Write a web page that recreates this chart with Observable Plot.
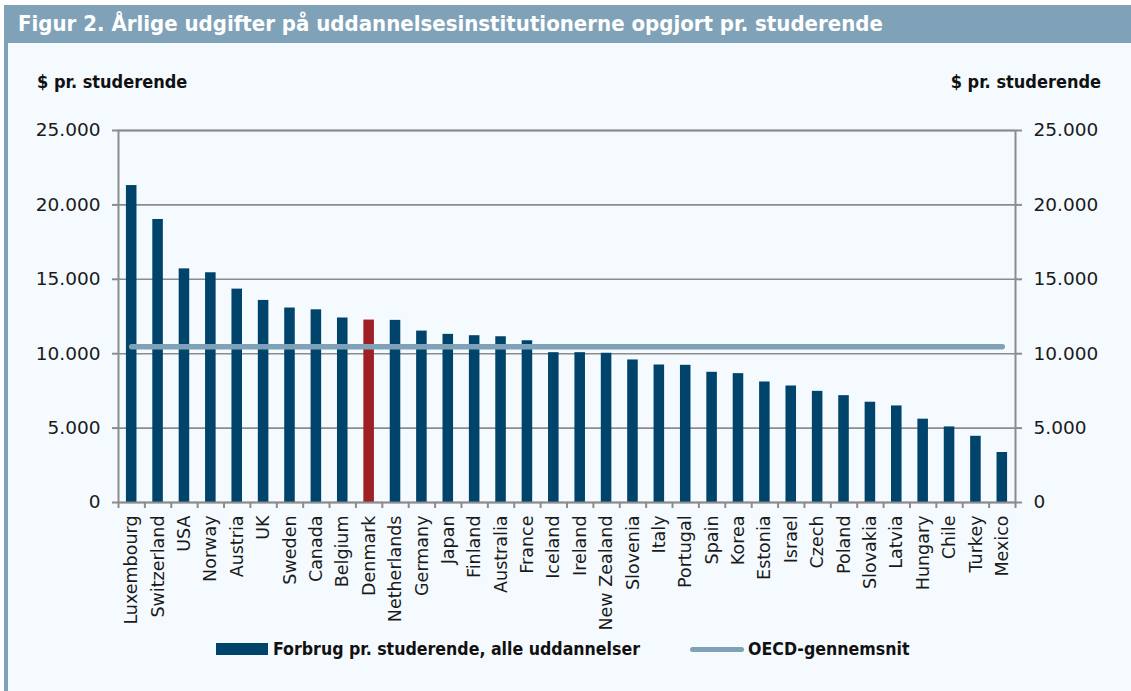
<!DOCTYPE html>
<html>
<head>
<meta charset="utf-8">
<script src="https://cdn.jsdelivr.net/npm/d3@7"></script>
<script src="https://cdn.jsdelivr.net/npm/@observablehq/plot@0.6"></script>
<style>
  html, body { margin: 0; padding: 0; background: #ffffff; }
  #wrap { position: relative; width: 1131px; height: 691px; overflow: hidden; background: #ffffff; }
  #band { position: absolute; left: 5px; top: 5px; width: 1126px; height: 38px; background: #7fa2b8; }
  #stripe { position: absolute; left: 4px; top: 5px; width: 4px; height: 686px; background: #7fa2b8; }
  #inner { position: absolute; left: 8px; top: 43px; width: 1123px; height: 648px; background: #f5faff; }
  #title { position: absolute; left: 18px; top: 10px; color: #ffffff; font-family: "DejaVu Sans Condensed", sans-serif; font-weight: bold; font-size: 22px; line-height: 28px; white-space: nowrap; }
  .ylab { position: absolute; top: 70px; font-family: "DejaVu Sans Condensed", sans-serif; font-weight: bold; font-size: 18px; color: #111; white-space: nowrap; line-height: 24px; }
  #chart { position: absolute; left: 0; top: 43px; }
  .leg { position: absolute; top: 636px; height: 26px; display: flex; align-items: center; font-family: "DejaVu Sans Condensed", sans-serif; font-weight: bold; font-size: 17.6px; color: #111; white-space: nowrap; }
  .sw-bar { width: 52px; height: 12px; background: #00446c; margin-right: 5px; }
  .sw-line { width: 54px; height: 5px; border-radius: 3px; background: #7fa2b8; margin-right: 4px; }
</style>
</head>
<body>
<div id="wrap">
  <div id="band"></div>
  <div id="stripe"></div>
  <div id="inner"></div>
  <div id="title">Figur 2. Årlige udgifter på uddannelsesinstitutionerne opgjort pr. studerende</div>
  <div class="ylab" style="left:37px;">$ pr. studerende</div>
  <div class="ylab" style="right:30px;">$ pr. studerende</div>
  <div id="chart"></div>
  <div class="leg" style="left:216px;"><div class="sw-bar"></div>Forbrug pr. studerende, alle uddannelser</div>
  <div class="leg" style="left:690px;"><div class="sw-line"></div>OECD-gennemsnit</div>
</div>
<script>
const countries = ["Luxembourg","Switzerland","USA","Norway","Austria","UK","Sweden","Canada","Belgium","Denmark","Netherlands","Germany","Japan","Finland","Australia","France","Iceland","Ireland","New Zealand","Slovenia","Italy","Portugal","Spain","Korea","Estonia","Israel","Czech","Poland","Slovakia","Latvia","Hungary","Chile","Turkey","Mexico"];
const spending = [21300,19020,15700,15440,14340,13580,13070,12950,12400,12260,12240,11520,11300,11210,11140,10870,10070,10070,10030,9580,9240,9220,8750,8660,8100,7830,7470,7180,6740,6490,5600,5080,4450,3360];
const oecdAverage = 10470;
const highlight = "Denmark";
const yTicks = [0,5000,10000,15000,20000,25000];

const data = countries.map((c, i) => ({country: c, value: spending[i], oecd: oecdAverage}));

const W = 1131, H = 600, ML = 118, MR = 116, MT = 87, MB = 141;
const step = (W - ML - MR) / countries.length;
const fmt = d => d === 0 ? "0" : d3.format(",")(d).replace(/,/g, ".");
const gray = "#8c8c8c";

const chart = Plot.plot({
  width: W, height: H,
  marginLeft: ML, marginRight: MR, marginTop: MT, marginBottom: MB,
  style: {background: "transparent", fontFamily: "DejaVu Sans, sans-serif", color: "#1a1a1a", overflow: "visible"},
  x: {domain: countries, paddingInner: 0.6, paddingOuter: 0.3, round: false, label: null},
  y: {domain: [0, 25000], label: null},
  marks: [
    Plot.gridY(yTicks, {stroke: gray, strokeOpacity: 1, strokeWidth: 1.6}),
    Plot.barY(data, {x: "country", y: "value", fill: d => d.country === highlight ? "#9e1f26" : "#00446c"}),
    Plot.lineY(data, {x: "country", y: "oecd", stroke: "#7fa2b8", strokeWidth: 5.5, strokeLinecap: "round"}),
    Plot.frame({stroke: gray, strokeWidth: 2}),
    Plot.axisY(yTicks, {anchor: "left", tickSize: 6, tickFormat: () => "", stroke: gray, strokeWidth: 2}),
    Plot.axisY(yTicks, {anchor: "right", tickSize: 6, tickFormat: () => "", stroke: gray, strokeWidth: 2}),
    Plot.axisY(yTicks, {anchor: "left", tickSize: 0, tickPadding: 18, tickFormat: fmt, fontSize: 18.5, fill: "#1a1a1a"}),
    Plot.axisY(yTicks, {anchor: "right", tickSize: 0, tickPadding: 18, tickFormat: fmt, fontSize: 18.5, fill: "#1a1a1a"}),
    Plot.axisX(countries, {tickSize: 6, dx: -step / 2, tickFormat: () => "", stroke: gray, strokeWidth: 2}),
    Plot.axisX([countries[countries.length - 1]], {tickSize: 6, dx: step / 2, tickFormat: () => "", stroke: gray, strokeWidth: 2}),
    Plot.axisX(countries, {tickSize: 0, tickPadding: 13, tickRotate: -90, fontSize: 17.5, fill: "#1a1a1a"})
  ]
});
document.getElementById("chart").appendChild(chart);
</script>
</body>
</html>
